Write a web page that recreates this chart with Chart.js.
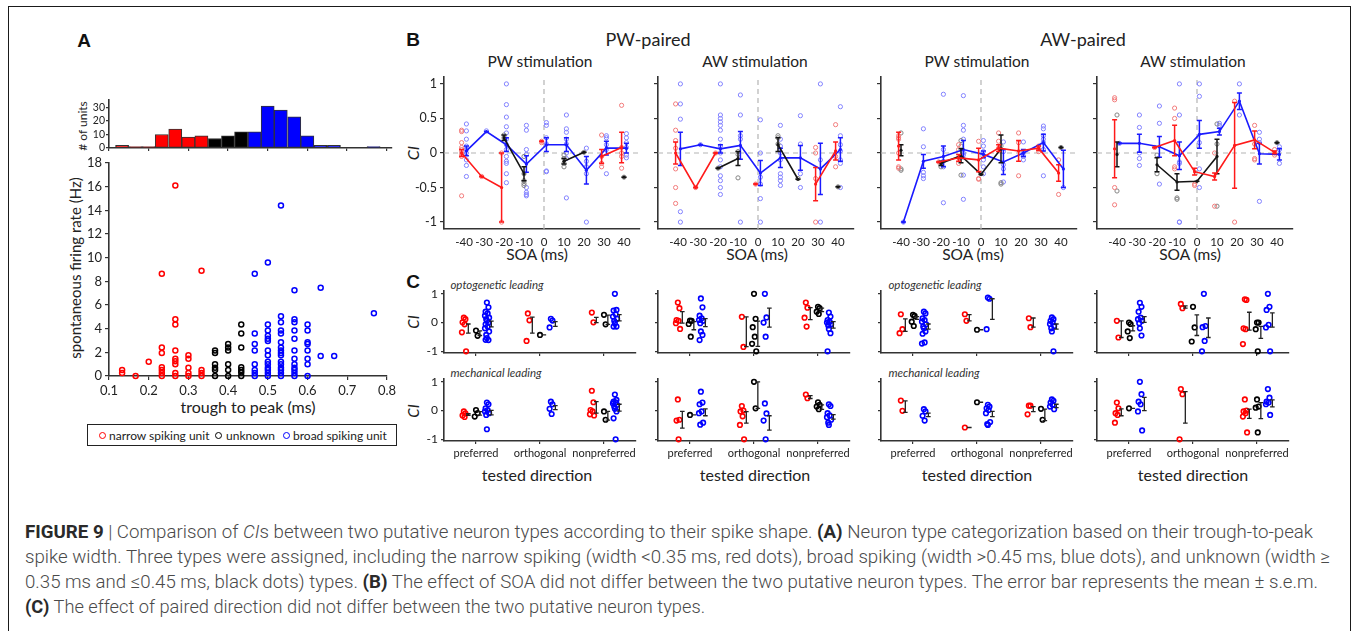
<!DOCTYPE html>
<html>
<head>
<meta charset="utf-8">
<script src="https://cdn.jsdelivr.net/npm/chart.js@4.4.1/dist/chart.umd.min.js"></script>
<style>
body { margin: 0; width: 1354px; height: 631px; overflow: hidden; background: #fff; position: relative; font-family: Lato, "Open Sans", sans-serif; color: #222; }
canvas { position: absolute; }
.t { position: absolute; white-space: nowrap; transform: translate(-50%, -50%); line-height: 1; }
.rot { transform: translate(-50%, -50%) rotate(-90deg); }
.big { font-family: "Liberation Sans", Arial, sans-serif; font-weight: bold; font-size: 19px; color: #111; }
.it { font-style: italic; }
.cap { position: absolute; left: 25px; white-space: nowrap; font-family: Roboto, "Liberation Sans", sans-serif; font-weight: 300; font-size: 18px; line-height: 18px; color: #4a4a4a; transform-origin: 0 50%; }
.cap b { font-weight: 700; color: #2a2a2a; }
#frame { position: absolute; left: 8px; top: 6px; width: 1343px; height: 700px; border: 1.5px solid #1a1a1a; box-sizing: border-box; }
#legend { position: absolute; left: 87px; top: 424px; width: 310px; height: 22px; border: 1.5px solid #222; box-sizing: border-box; font-size: 12px; }
.dot { position: absolute; width: 7px; height: 7px; border-radius: 50%; border: 1.7px solid; box-sizing: border-box; top: 7px; }
.lt { position: absolute; top: 3px; }
</style>
</head>
<body>
<div id="frame"></div>

<!-- panel A text -->
<div class="t big" style="left:84px;top:40px">A</div>
<div class="t rot" style="left:83px;top:126px;font-size:12px"># of units</div>
<div class="t rot" style="left:75px;top:268px;font-size:15px">spontaneous firing rate (Hz)</div>
<div class="t" style="left:248px;top:407px;font-size:16px">trough to peak (ms)</div>
<div id="legend">
  <span class="dot" style="left:11px;border-color:#ff0000"></span><span class="lt" style="left:21px">narrow spiking unit</span>
  <span class="dot" style="left:127px;border-color:#000"></span><span class="lt" style="left:138px">unknown</span>
  <span class="dot" style="left:195px;border-color:#0000ff"></span><span class="lt" style="left:205px">broad spiking unit</span>
</div>

<!-- panel B text -->
<div class="t big" style="left:413px;top:39px">B</div>
<div class="t" style="left:648px;top:39px;font-size:18px">PW-paired</div>
<div class="t" style="left:1083px;top:39px;font-size:18px">AW-paired</div>
<div class="t" style="left:540px;top:62px;font-size:15.5px">PW stimulation</div>
<div class="t" style="left:755px;top:62px;font-size:15.5px">AW stimulation</div>
<div class="t" style="left:977px;top:62px;font-size:15.5px">PW stimulation</div>
<div class="t" style="left:1193px;top:62px;font-size:15.5px">AW stimulation</div>
<div class="t rot it" style="left:413px;top:153px;font-size:16px">CI</div>
<div class="t" style="left:537px;top:255px;font-size:15.5px">SOA (ms)</div>
<div class="t" style="left:757px;top:255px;font-size:15.5px">SOA (ms)</div>
<div class="t" style="left:973px;top:255px;font-size:15.5px">SOA (ms)</div>
<div class="t" style="left:1190px;top:255px;font-size:15.5px">SOA (ms)</div>

<!-- panel C text -->
<div class="t big" style="left:413px;top:281px">C</div>
<div class="t rot it" style="left:413px;top:322px;font-size:15px">CI</div>
<div class="t rot it" style="left:413px;top:411px;font-size:15px">CI</div>
<div class="t it" style="left:497px;top:285px;font-size:11.5px;color:#333">optogenetic leading</div>
<div class="t it" style="left:935px;top:285px;font-size:11.5px;color:#333">optogenetic leading</div>
<div class="t it" style="left:496px;top:373px;font-size:11.5px;color:#333">mechanical leading</div>
<div class="t it" style="left:934px;top:373px;font-size:11.5px;color:#333">mechanical leading</div>
<div class="t" style="left:537px;top:475px;font-size:16px">tested direction</div>
<div class="t" style="left:755px;top:475px;font-size:16px">tested direction</div>
<div class="t" style="left:977px;top:475px;font-size:16px">tested direction</div>
<div class="t" style="left:1193px;top:475px;font-size:16px">tested direction</div>

<!-- caption -->
<div class="cap" data-w="1288" style="top:523px"><b>FIGURE 9</b> | Comparison of <i>CI</i>s between two putative neuron types according to their spike shape. <b>(A)</b> Neuron type categorization based on their trough-to-peak</div>
<div class="cap" data-w="1305" style="top:548px">spike width. Three types were assigned, including the narrow spiking (width &lt;0.35 ms, red dots), broad spiking (width &gt;0.45 ms, blue dots), and unknown (width ≥</div>
<div class="cap" data-w="1293" style="top:573px">0.35 ms and ≤0.45 ms, black dots) types. <b>(B)</b> The effect of SOA did not differ between the two putative neuron types. The error bar represents the mean ± s.e.m.</div>
<div class="cap" data-w="680" style="top:598px"><b>(C)</b> The effect of paired direction did not differ between the two putative neuron types.</div>

<script>
// ---------- panel A data ----------
const HIST_X = [0.133,0.167,0.2,0.233,0.267,0.3,0.333,0.367,0.4,0.433,0.467,0.5,0.533,0.567,0.6,0.633,0.667,0.7,0.733,0.767];
const HIST_N = [2,1,1,10,14,8,9,7,9,12,12,31,28,23,9,2,2,0,0,1];

const A_RED_X = [0.133,0.167,0.2,0.233,0.267,0.3,0.333];
const A_RED_HZ = [[0.5,0.25],[0],[1.2],[8.65,2.4,1.95,0.75,0.5,0.25,0],[16.1,4.8,4.35,2.15,1.45,1.25,1.0,0.25,0],[1.75,1.45,0.7,0.25,0],[8.9,0.5,0.25,0]];
const A_BLK_X = [0.367,0.4,0.433];
const A_BLK_HZ = [[2.15,1.95,1.0,0.7,0.5,0],[2.7,2.4,2.15,1.0,0.5,0],[4.35,3.6,2.4,0.75,0.5,0.3,0]];
const A_BLU_X = [0.467,0.5,0.533,0.567,0.6,0.633,0.667,0.767];
const A_BLU_HZ = [[8.65,3.6,2.7,2.15,1.0,0.5,0.25,0],[9.6,4.35,3.85,3.4,3.15,2.95,2.15,1.75,1.2,1.0,0.7,0.5,0.25,0],[14.4,5.05,4.55,3.85,3.6,2.85,2.4,2.15,1.95,1.75,1.2,1.0,0.7,0.5,0.25,0],[7.25,4.8,4.55,3.85,3.15,2.15,1.45,1.0,0.7,0.5,0.25,0],[4.35,3.85,2.85,2.7,2.15,1.45,1.0,0],[7.45,1.7],[1.7],[5.3]];
const A_X_TICKS = [0.1,0.2,0.3,0.4,0.5,0.6,0.7,0.8];
const A_Y_TICKS = [0,2,4,6,8,10,12,14,16,18];
const HIST_Y_TICKS = [0,10,20,30];

// ---------- panel B data (SOA columns) ----------
const SOA = [-40,-30,-20,-10,0,10,20,30,40];
const B_Y_TICKS = [-1,-0.5,0,0.5,1];

const B1_RED_PTS = [[0.33,0.31,0.15,0.08,0.05,0.02,-0.02,-0.05,-0.62],[-0.34],[0,-1],[],[0.17,0.15],[],[],[0.26,-0.05,-0.15,-0.2],[0.69,0.08,0,-0.05,-0.22]];
const B1_BLK_PTS = [[],[],[0.26,0.22],[-0.05,-0.3,-0.4,-0.44,-0.47],[],[-0.03,-0.08,-0.15,-0.2],[0.01],[],[-0.35]];
const B1_BLU_PTS = [[0.42,0.32,0.2,0.1,0.05,0,-0.1,-0.18,-0.34],[0.32],[1,0.7,0.52,0.38,0.29,0.2,0.12,0.05,-0.05,-0.12,-0.15,-0.3,-0.43],[0.4,0.33,0.05,-0.02,-0.5,-0.57,-0.62,-0.6],[0.44,0.4,0.22,0.13,-0.26,-0.27],[0.55,0.35,0.3,0.2,0.13,0,-0.08,-0.65],[0.07,-0.12,-0.2,-0.3,-1],[0.25,0.22,0.12,0.05,-0.3],[0.28,0.22,0.15,0.08,-0.03,-0.07]];
const B1_RED_MEAN = [0,-0.34,-0.5,null,0.17,null,null,-0.05,0.08];
const B1_RED_SEM = [0.05,0,0.5,null,0,null,null,0.1,0.22];
const B1_BLK_MEAN = [null,null,0.22,-0.3,null,-0.12,0.01,null,-0.35];
const B1_BLK_SEM = [null,null,0.04,0.1,null,0.04,0,null,0];
const B1_BLU_MEAN = [0.03,0.31,0.12,-0.16,0.12,0.12,-0.25,0.07,0.07];
const B1_BLU_SEM = [0.07,0,0.1,0.12,0.1,0.1,0.2,0.1,0.07];

const B2_RED_PTS = [[0.71,0.33,0.18,0.07,-0.23,-0.5,-0.73],[-0.5],[0],[],[-0.45],[],[],[0.08,0,-0.37,-1],[0.41,-0.05,-0.2]];
const B2_BLK_PTS = [[],[],[-0.22],[0.02,-0.02,-0.36],[],[0.25,0.22,0.13],[-0.37],[],[-0.49]];
const B2_BLU_PTS = [[1,0.71,0.49,-0.85,-1],[0.12],[1,0.55,0.5,0.45,0.4,0.33,0.2,0.1,0,-0.1,-0.2,-0.33,-0.4,-0.5,-0.6],[0.84,0.55,0.25,0.2,-1],[0.48,0,-0.35,-0.45,-0.66,-1],[0.4,0.2,0.1,0,-0.1,-0.3,-0.35,-0.4,-0.47],[0.54,0.13,-0.3,-0.5],[1,-0.1,-1],[0.67,0.25,0.12,0.03,-0.1,-0.15,-0.5]];
const B2_RED_MEAN = [0,-0.5,0,null,-0.45,null,null,-0.45,0.03];
const B2_RED_SEM = [0.16,0,0,null,0,null,null,0.24,0.13];
const B2_BLK_MEAN = [null,null,-0.22,-0.08,null,0.12,-0.38,null,-0.49];
const B2_BLK_SEM = [null,null,0,0.1,null,0.1,0,null,0];
const B2_BLU_MEAN = [0.06,0.12,0.06,0.11,-0.29,-0.07,-0.07,-0.23,0.05];
const B2_BLU_SEM = [0.24,0,0.06,0.2,0.18,0.14,0.18,0.37,0.17];

const B3_RED_PTS = [[0.25,0.22,0.2,0,-0.2,-0.22],[],[-0.13],[0.12,0.05,-0.07,-0.15],[0.17,-0.37,-0.38],[0.29,0.17,0.07],[0.29,0.15,-0.33],[0.1,0.05,0.02],[-0.1,-0.6]];
const B3_BLK_PTS = [[0.29,-0.23,-0.25],[],[-0.2,-0.15],[0.18,0.1,-0.32],[-0.3],[0.1,-0.45,-0.43],[],[],[0.08]];
const B3_BLU_PTS = [[-1],[0.35,0.09,-0.28,-0.33,-0.37],[0.85,0.05,-0.12,-0.2,-0.72],[0.83,0.4,0.33,0.2,0,-0.03,-0.32,-0.67],[0.18,0.1,0.02,-0.1,-0.2,-0.3],[0.16,0.02,-0.17,-0.23,-0.42],[0.16,0,-0.05,-0.1],[0.39,0.35,0.25,0.2,0.15,0.05,-0.33],[-0.5]];
const B3_RED_MEAN = [0.1,null,-0.13,-0.07,-0.1,0.07,0.03,0.07,-0.29];
const B3_RED_SEM = [0.2,null,0,0.05,0.17,0.05,0.15,0.03,0.12];
const B3_BLK_MEAN = [0.04,null,-0.15,-0.04,-0.31,0.06,null,null,0.08];
const B3_BLK_SEM = [0.08,null,0.03,0.1,0,0.2,null,null,0];
const B3_BLU_MEAN = [-1,-0.12,-0.05,0.05,-0.02,-0.13,0,0.15,-0.23];
const B3_BLU_SEM = [0,0.1,0.15,0.13,0.05,0.18,0.05,0.12,0.27];

const B4_RED_PTS = [[0.8,0.77,-0.5,-0.75],[],[0.08],[0.65,0.5,-0.2,-0.23],[-0.45,-0.47],[0,-0.77],[0.75,-1],[0.4,0.13,-0.08,-0.1],[0.05,0,-0.03]];
const B4_BLK_PTS = [[0.55,-0.55],[],[-0.03,-0.3],[-0.65,-0.67],[],[0.42,0.13,-0.77],[],[],[0.15]];
const B4_BLU_PTS = [[0.14],[0.55,0.37,0,-0.08,-0.18],[0.68,0.43,-0.45],[1,0.55,-0.13,-0.15,-1,-1],[1,0.82,0.15,-0.23,-0.5],[0.43,0.4],[1,0.55],[0.3,0.2,0.15,-0.7],[0.09,0.05,-0.15]];
const B4_RED_MEAN = [0.06,null,0.08,0.18,-0.27,-0.34,0.11,0.19,0.01];
const B4_RED_SEM = [0.42,null,0,0.22,0.05,0.05,0.62,0.13,0.02];
const B4_BLK_MEAN = [-0.02,null,-0.17,-0.42,-0.41,-0.05,null,null,0.15];
const B4_BLK_SEM = [0.18,null,0.1,0.12,0,0.25,null,null,0];
const B4_BLU_MEAN = [0.14,0.14,0.09,-0.04,0.27,0.31,0.75,-0.01,-0.02];
const B4_BLU_SEM = [0,0.13,0.15,0.2,0.2,0.05,0.12,0.15,0.08];

// ---------- panel C data (preferred, orthogonal, nonpreferred) ----------
const CATS = ['preferred','orthogonal','nonpreferred'];
const C_Y_TICKS = [-1,0,1];

const C1_RED = [[0.17,0.12,0.01,-0.06,-0.34,-1],[0.32,0.08,-0.64],[0.35,0.01]];
const C1_RED_M = [-0.21,-0.09,0.09], C1_RED_E = [0.16,0.28,0.09];
const C1_BLK = [[-0.28,-0.46],[-0.43],[0.27,-0.06]];
const C1_BLK_M = [-0.37,-0.43,0.1], C1_BLK_E = [0.08,0,0.16];
const C1_BLU = [[0.7,0.53,0.38,0.32,0.24,0.17,0.12,0.06,0,-0.06,-0.14,-0.2,-0.31,-0.43,-0.54,-0.61,-0.6],[0.13,0.07,-0.17],[1,0.44,0.42,0.29,0.21,0.13,0.06,-0.02,-0.14,-0.14]];
const C1_BLU_M = [-0.05,-0.05,0.17], C1_BLU_E = [0.1,0.08,0.11];

const C2_RED = [[0.7,0.5,0.09,0.06,-0.02,-0.22],[0.2,-0.85],[0.7,0.52,0.17,-0.14]];
const C2_RED_M = [0.18,-0.32,0.31], C2_RED_E = [0.2,0.52,0.21];
const C2_BLK = [[0.07,0.06,-0.05,-0.49],[1,0.13,-0.16,-0.49,-0.74,-1],[0.55,0.5,0.38,0.3]];
const C2_BLK_M = [-0.11,-0.39,0.44], C2_BLK_E = [0.14,0.44,0.06];
const C2_BLU = [[0.84,0.53,0.24,0.15,0.09,0.06,-0.02,-0.31,-0.43,-0.61],[1,0.18,0,-0.49],[0.35,0.21,0.09,0.03,0,-0.06,-0.1,-0.22,-0.37,-1]];
const C2_BLU_M = [0,0.17,-0.08], C2_BLU_E = [0.14,0.33,0.11];

const C3_RED = [[0.29,-0.23,-0.37],[0.29,0.06],[0.15,-0.16]];
const C3_RED_M = [-0.09,0.17,0], C3_RED_E = [0.22,0.11,0.16];
const C3_BLK = [[0.27,0.23,0.03,-0.12],[-0.25],[]];
const C3_BLK_M = [0.16,-0.25,null], C3_BLK_E = [0.05,0,null];
const C3_BLU = [[0.38,0.32,0.15,0.09,0.03,-0.06,-0.14,-0.2,-0.31,-0.39,-0.69,-0.73],[0.87,0.83,-0.23],[0.18,0.12,0.06,0,-0.05,-0.12,-0.2,-0.31,-1]];
const C3_BLU_M = [-0.14,0.47,-0.14], C3_BLU_E = [0.09,0.36,0.09];

const C4_RED = [[0.06,-0.52],[0.65,0.5],[0.81,0.79,-0.2,-0.23,-0.75]];
const C4_RED_M = [-0.23,0.54,0.05], C4_RED_E = [0.29,0.04,0.31];
const C4_BLK = [[0,-0.05,-0.31,-0.54],[0.55,-0.17,-0.66],[0,0,-0.23,-1]];
const C4_BLK_M = [-0.2,-0.09,-0.34], C4_BLK_E = [0.09,0.36,0.21];
const C4_BLU = [[0.69,0.55,0.38,0.17,0.12,0.06,-0.02,-0.2,-0.45],[1,-0.12,-0.16,-0.64,-1],[1,0.55,0.44,-0.08,-0.17,-1]];
const C4_BLU_M = [0.11,-0.18,0.09], C4_BLU_E = [0.1,0.34,0.25];

const C5_RED = [[-0.03,-0.1,-0.17,-0.22],[],[0.69,0.29,0.02,-0.03,-0.13,-0.17]];
const C5_RED_M = [-0.14,null,0.11], C5_RED_E = [0.03,null,0.2];
const C5_BLK = [[0.02,-0.09,-0.21],[],[-0.03,-0.32]];
const C5_BLK_M = [-0.1,null,-0.18], C5_BLK_E = [0.06,null,0.15];
const C5_BLU = [[0.28,0.22,0.08,0.02,-0.03,-0.09,-0.15,-0.65],[0.31,0.22,0.06,-0.12],[0.56,0.37,0.31,0.29,0.25,0.2,0.14,0.06,-0.03,-0.27,-1]];
const C5_BLU_M = [-0.07,0.1,0.1], C5_BLU_E = [0.08,0.07,0.12];

const C6_RED = [[0.39,-0.32,-0.35,-1],[0.16,0,-0.03,-0.2,-0.5,-1],[0.56,0.43]];
const C6_RED_M = [-0.32,-0.24,0.47], C6_RED_E = [0.29,0.2,0.05];
const C6_BLK = [[-0.15],[1,0.08],[0.29,0.2,0.14,0.05]];
const C6_BLK_M = [-0.15,0.54,0.12], C6_BLK_E = [0,0.46,0.08];
const C6_BLU = [[0.66,0.28,0.22,-0.03,-0.09,-0.42,-0.49],[0.25,-0.1,-0.35,-1],[0.22,0.16,-0.09,-0.17,-0.23,-0.32,-0.42,-0.5]];
const C6_BLU_M = [-0.06,-0.43,-0.22], C6_BLU_E = [0.12,0.25,0.08];

const C7_RED = [[0.35,-0.01],[-0.59],[0.17,0.17,-0.13]];
const C7_RED_M = [0.14,-0.59,0.05], C7_RED_E = [0.2,0,0.09];
const C7_BLK = [[],[0.29],[0.06,-0.32]];
const C7_BLK_M = [null,0.29,-0.15], C7_BLK_E = [null,0,0.2];
const C7_BLU = [[0.05,-0.03,-0.18,-0.35],[0.2,0.14,0.08,0.02,-0.09,-0.4,-0.47,-0.5],[0.39,0.34,0.28,0.2,0.14,0.05]];
const C7_BLU_M = [-0.15,-0.12,0.16], C7_BLU_E = [0.06,0.09,0.06];

const C8_RED = [[0.28,0.08,-0.09,-0.15,-0.42],[0.75,0.57,-1],[0.39,0,-0.03,-0.09,-0.21,-0.76]];
const C8_RED_M = [-0.06,0.11,-0.11], C8_RED_E = [0.12,0.55,0.16];
const C8_BLK = [[0.08],[],[0.39,0.14,0.1,-0.76]];
const C8_BLK_M = [0.08,null,0], C8_BLK_E = [0,null,0.28];
const C8_BLU = [[1,0.57,0.31,0.22,-0.03,-0.69],[],[0.75,0.45,0.31,0.28,0.22,-0.15]];
const C8_BLU_M = [0.23,null,0.25], C8_BLU_E = [0.23,null,0.12];

// ---------- styling ----------
const FONT = "Lato, 'Open Sans', sans-serif";
const AX = '#333';
const RED = '#ff0000', BLK = '#000000', BLU = '#0000ff';
const LIGHT = ['#f27c7c', '#858585', '#8282ff'];
const LINE = ['#ff1a1a', '#141414', '#1a1aff'];
const B_DX = [-1.2, 0, 1.2];          // red / black / blue column offset (ms)
const C_DX = [-0.19, 0, 0.17];        // point offset inside a category
const C_ERR_DX = [-0.12, 0.06, 0.24]; // error bar offset inside a category
const JITTER = [0, 0.025, -0.02, 0.012, -0.03, 0.035, -0.01];
const PAD_T = 14, PAD_R = 46;

// error bars drawn through the chart scales
const errBars = {
  id: 'errBars',
  afterDatasetDraw(chart, args) {
    const ds = chart.data.datasets[args.index];
    if (!ds.errs) return;
    const ctx = chart.ctx, xs = chart.scales.x, ys = chart.scales.y;
    ctx.save();
    ctx.strokeStyle = ds.errColor || ds.borderColor;
    ctx.lineWidth = ds.errWidth || 1.5;
    const cap = ds.capW || 2.5;
    ds.data.forEach((p, j) => {
      const e = ds.errs[j];
      if (!p || p.y == null || e == null) return;
      const px = xs.getPixelForValue(p.x);
      const y1 = ys.getPixelForValue(p.y + e), y2 = ys.getPixelForValue(p.y - e);
      ctx.beginPath();
      ctx.moveTo(px, y1); ctx.lineTo(px, y2);
      ctx.moveTo(px - cap, y1); ctx.lineTo(px + cap, y1);
      ctx.moveTo(px - cap, y2); ctx.lineTo(px + cap, y2);
      ctx.stroke();
    });
    ctx.restore();
  }
};
Chart.register(errBars);

function place(L, T, W, H, padL, padB) {
  const c = document.createElement('canvas');
  c.width = W + padL + PAD_R;
  c.height = H + PAD_T + padB;
  c.style.left = (L - padL) + 'px';
  c.style.top = (T - PAD_T) + 'px';
  document.body.appendChild(c);
  return c;
}

function axis(min, max, ticks, size, o) {
  return {
    type: 'linear', min: min, max: max, offset: false,
    afterBuildTicks: s => { s.ticks = ticks.map(v => ({value: v})); },
    afterFit: s => { if (s.isHorizontal()) s.height = size; else s.width = size; },
    grid: {display: true, offset: false, drawOnChartArea: false, drawTicks: o.tick > 0, tickLength: o.tick || 0, color: AX, lineWidth: 1.2},
    border: {display: true, color: AX, width: 1.6},
    ticks: {autoSkip: false, maxRotation: 0, padding: o.pad == null ? 2 : o.pad, color: '#222',
      font: {family: FONT, size: o.fs || 13}, callback: o.lab || (v => String(v))}
  };
}

function baseOptions(x, y) {
  return {
    responsive: false, animation: false, events: [],
    layout: {padding: {top: PAD_T, right: PAD_R, left: 0, bottom: 0}},
    plugins: {legend: {display: false}, tooltip: {enabled: false}},
    scales: {x: x, y: y}
  };
}

// ---------- panel A ----------
(function () {
  const c = place(109, 100, 283, 48, 30, 8);
  new Chart(c, {
    type: 'bar',
    data: {datasets: [{
      data: HIST_X.map((x, i) => ({x: x, y: HIST_N[i]})),
      backgroundColor: HIST_X.map(x => x < 0.35 ? RED : (x < 0.45 ? BLK : BLU)),
      borderColor: '#333', borderWidth: 1, barPercentage: 1, categoryPercentage: 1, borderSkipped: false
    }]},
    options: baseOptions(
      axis(0.1, 0.8134, A_X_TICKS, 8, {tick: 3, lab: () => ''}),
      axis(0, 35.5, HIST_Y_TICKS, 30, {tick: 3, fs: 10.5, pad: 1}))
  });

  const c2 = place(109, 163, 278, 213, 32, 30);
  const cols = [[A_RED_X, A_RED_HZ, RED], [A_BLK_X, A_BLK_HZ, BLK], [A_BLU_X, A_BLU_HZ, BLU]];
  new Chart(c2, {
    type: 'scatter',
    data: {datasets: cols.map(([xs, hz, col]) => ({
      data: xs.flatMap((x, i) => hz[i].map(v => ({x: x, y: v}))),
      pointRadius: 2.5, pointBorderWidth: 1.5, pointBorderColor: col, pointBackgroundColor: 'rgba(0,0,0,0)', clip: false
    }))},
    options: baseOptions(
      axis(0.1, 0.8, A_X_TICKS, 30, {tick: 4, pad: 3, lab: v => String(v)}),
      axis(0, 18, A_Y_TICKS, 32, {tick: 4, pad: 3}))
  });
})();

// ---------- panel B ----------
function chartB(L, showY, groups) {
  const c = place(L, 77, 196, 152, showY ? 38 : 8, 24);
  const ds = [];
  ds.push({data: [{x: -50, y: 0}, {x: 48, y: 0}], showLine: true, borderColor: '#b4b4b4', borderWidth: 1.2, borderDash: [5, 4], pointRadius: 0, order: 9});
  ds.push({data: [{x: 0, y: -1.1}, {x: 0, y: 1.1}], showLine: true, borderColor: '#b4b4b4', borderWidth: 1.2, borderDash: [5, 4], pointRadius: 0, order: 9});
  groups.forEach(([pts, mean, sem], k) => {
    const pdata = [];
    SOA.forEach((s, i) => pts[i].forEach(v => pdata.push({x: s + B_DX[k], y: v})));
    ds.push({data: pdata, pointRadius: 2.1, pointBorderWidth: 1, pointBorderColor: LIGHT[k], pointBackgroundColor: 'rgba(0,0,0,0)', clip: false, order: 5});
  });
  groups.forEach(([pts, mean, sem], k) => {
    ds.push({data: SOA.map((s, i) => ({x: s + B_DX[k], y: mean[i]})), errs: sem,
      showLine: true, spanGaps: false, borderColor: LINE[k], borderWidth: 1.6, errWidth: 1.5, capW: 2.5,
      pointRadius: 1.6, pointBorderWidth: 0, pointBackgroundColor: LINE[k], clip: false, order: 1});
  });
  new Chart(c, {
    type: 'scatter',
    data: {datasets: ds},
    options: baseOptions(
      axis(-50, 48, SOA, 24, {tick: 0, pad: 6, fs: 11.5}),
      axis(-1.1, 1.1, B_Y_TICKS, showY ? 38 : 8, {tick: 4, pad: 3, fs: 12.5, lab: showY ? (v => String(v)) : (() => '')}))
  });
}

chartB(444, true, [[B1_RED_PTS, B1_RED_MEAN, B1_RED_SEM], [B1_BLK_PTS, B1_BLK_MEAN, B1_BLK_SEM], [B1_BLU_PTS, B1_BLU_MEAN, B1_BLU_SEM]]);
chartB(658, false, [[B2_RED_PTS, B2_RED_MEAN, B2_RED_SEM], [B2_BLK_PTS, B2_BLK_MEAN, B2_BLK_SEM], [B2_BLU_PTS, B2_BLU_MEAN, B2_BLU_SEM]]);
chartB(881, false, [[B3_RED_PTS, B3_RED_MEAN, B3_RED_SEM], [B3_BLK_PTS, B3_BLK_MEAN, B3_BLK_SEM], [B3_BLU_PTS, B3_BLU_MEAN, B3_BLU_SEM]]);
chartB(1097, false, [[B4_RED_PTS, B4_RED_MEAN, B4_RED_SEM], [B4_BLK_PTS, B4_BLK_MEAN, B4_BLK_SEM], [B4_BLU_PTS, B4_BLU_MEAN, B4_BLU_SEM]]);

// ---------- panel C ----------
function chartC(L, T, showY, showX, groups) {
  const padL = showY ? 26 : 6, padB = showX ? 22 : 14;
  const c = place(L, T, 192, 62, padL, padB);
  const cols = [RED, BLK, BLU];
  const ds = [];
  groups.forEach(([pts, mean, sem], k) => {
    const pdata = [];
    pts.forEach((arr, i) => arr.forEach((v, j) => pdata.push({x: i + 1 + C_DX[k] + JITTER[j % JITTER.length], y: v})));
    ds.push({data: pdata, pointRadius: 2.3, pointBorderWidth: 1.6, pointBorderColor: cols[k], pointBackgroundColor: 'rgba(0,0,0,0)', clip: false, order: 5});
    ds.push({data: mean.map((m, i) => ({x: i + 1 + C_ERR_DX[k], y: m})), errs: sem,
      pointRadius: 0, borderColor: '#222', errColor: '#222', errWidth: 1.3, capW: 2.3, clip: false, order: 1});
  });
  new Chart(c, {
    type: 'scatter',
    data: {datasets: ds},
    options: baseOptions(
      axis(0.5, 3.5, [1, 2, 3], padB, {tick: 3, pad: 3, fs: 11, lab: showX ? (v => CATS[v - 1]) : (() => '')}),
      axis(-1.06, 1.1, C_Y_TICKS, padL, {tick: 3, pad: 3, fs: 12, lab: showY ? (v => String(v)) : (() => '')}))
  });
}

chartC(444, 291, true, false, [[C1_RED, C1_RED_M, C1_RED_E], [C1_BLK, C1_BLK_M, C1_BLK_E], [C1_BLU, C1_BLU_M, C1_BLU_E]]);
chartC(658, 291, false, false, [[C2_RED, C2_RED_M, C2_RED_E], [C2_BLK, C2_BLK_M, C2_BLK_E], [C2_BLU, C2_BLU_M, C2_BLU_E]]);
chartC(881, 291, false, false, [[C3_RED, C3_RED_M, C3_RED_E], [C3_BLK, C3_BLK_M, C3_BLK_E], [C3_BLU, C3_BLU_M, C3_BLU_E]]);
chartC(1097, 291, false, false, [[C4_RED, C4_RED_M, C4_RED_E], [C4_BLK, C4_BLK_M, C4_BLK_E], [C4_BLU, C4_BLU_M, C4_BLU_E]]);
chartC(444, 379, true, true, [[C5_RED, C5_RED_M, C5_RED_E], [C5_BLK, C5_BLK_M, C5_BLK_E], [C5_BLU, C5_BLU_M, C5_BLU_E]]);
chartC(658, 379, false, true, [[C6_RED, C6_RED_M, C6_RED_E], [C6_BLK, C6_BLK_M, C6_BLK_E], [C6_BLU, C6_BLU_M, C6_BLU_E]]);
chartC(881, 379, false, true, [[C7_RED, C7_RED_M, C7_RED_E], [C7_BLK, C7_BLK_M, C7_BLK_E], [C7_BLU, C7_BLU_M, C7_BLU_E]]);
chartC(1097, 379, false, true, [[C8_RED, C8_RED_M, C8_RED_E], [C8_BLK, C8_BLK_M, C8_BLK_E], [C8_BLU, C8_BLU_M, C8_BLU_E]]);

// stretch caption lines to the measured widths
document.querySelectorAll('.cap').forEach(el => {
  const w = el.getBoundingClientRect().width;
  el.style.transform = 'scaleX(' + (Number(el.dataset.w) / w) + ')';
});
</script>
</body>
</html>
